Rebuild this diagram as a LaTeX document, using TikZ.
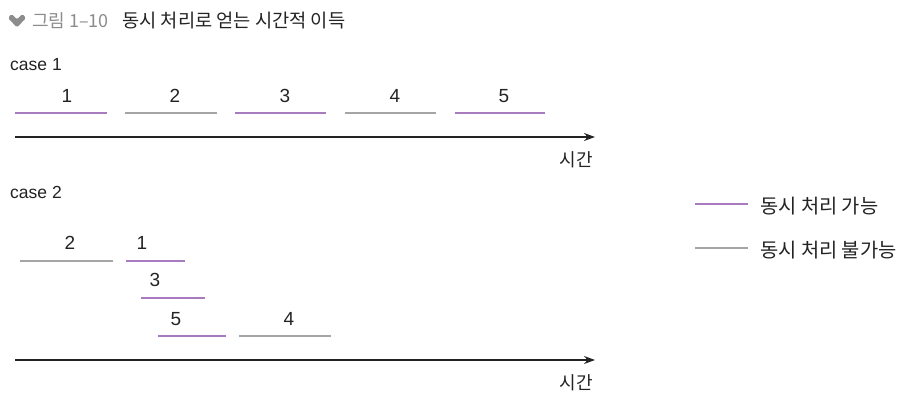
\documentclass[tikz,border=0pt]{standalone}
\usepackage{fontspec}
\setmainfont{Liberation Sans}
\newfontfamily\kr{Noto Sans CJK KR}
\usetikzlibrary{arrows.meta}
\definecolor{cancol}{RGB}{168,122,190}
\definecolor{nocol}{RGB}{165,165,165}
\definecolor{axiscol}{RGB}{35,35,35}
\definecolor{capgray}{RGB}{140,140,140}
\definecolor{capdark}{RGB}{35,35,35}
\tikzset{
  can/.style={cancol, line width=1.3pt},
  cannot/.style={nocol, line width=1.3pt},
  num/.style={font=\fontsize{19}{22}\selectfont, text=capdark, inner sep=0pt},
  lbl/.style={font=\fontsize{17.5}{20}\selectfont, text=capdark, inner sep=0pt, anchor=west},
  timeaxis/.style={-{Stealth[length=11pt,width=8pt]}, axiscol, line width=1.4pt},
}
\begin{document}
\begin{tikzpicture}[x=1pt, y=-1pt]
\useasboundingbox (0,0) rectangle (910,409);
% title
\fill[capgray, rounded corners=1.5pt] (8,18) -- (11.5,14) -- (17,19.5) -- (22.5,14) -- (26,18) -- (17,27.5) -- cycle;
\node[lbl, text=capgray, font=\kr\fontsize{18}{20}\selectfont] (fig) at (32,21) {그림 1–10};
\node[lbl, font=\kr\fontsize{18.7}{20}\selectfont] (title) at (122,21) {동시 처리로 얻는 시간적 이득};
% case 1
\node[lbl] (case1) at (10,65) {case 1};
\draw[can] (15,113) -- (107,113);
\draw[cannot] (125,113) -- (217,113);
\draw[can] (235,113) -- (326,113);
\draw[cannot] (345,113) -- (436,113);
\draw[can] (455,113) -- (545,113);
\node[num] (t1) at (67,96) {1};
\node[num] (t2) at (175,96) {2};
\node[num] (t3) at (285,96) {3};
\node[num] (t4) at (395,96) {4};
\node[num] (t5) at (504,96) {5};
\coordinate (s1) at (15,137);
\coordinate (e1) at (595,137);
\draw[timeaxis] (s1) -- (e1);
\node[lbl, anchor=center, font=\kr\fontsize{18}{20}\selectfont] (time1) at (576,160) {시간};
% case 2
\node[lbl] (case2) at (10,192) {case 2};
\draw[cannot] (20,261) -- (113,261);
\draw[can] (126,261) -- (185,261);
\draw[can] (141,298) -- (205,298);
\draw[can] (158,336) -- (226,336);
\draw[cannot] (239,336) -- (331,336);
\node[num] (u2) at (70,243) {2};
\node[num] (u1) at (142,243) {1};
\node[num] (u3) at (155,280) {3};
\node[num] (u5) at (176,319) {5};
\node[num] (u4) at (289,319) {4};
\coordinate (s2) at (15,360);
\coordinate (e2) at (595,360);
\draw[timeaxis] (s2) -- (e2);
\node[lbl, anchor=center, font=\kr\fontsize{18}{20}\selectfont] (time2) at (576,383) {시간};
% legend
\draw[can] (695,204) -- (748,204);
\draw[cannot] (695,248) -- (748,248);
\node[lbl, font=\kr\fontsize{19.8}{22}\selectfont] (leg1) at (760,206) {동시 처리 가능};
\node[lbl, font=\kr\fontsize{19.8}{22}\selectfont] (leg2) at (760,250) {동시 처리 불가능};
\end{tikzpicture}
\end{document}
